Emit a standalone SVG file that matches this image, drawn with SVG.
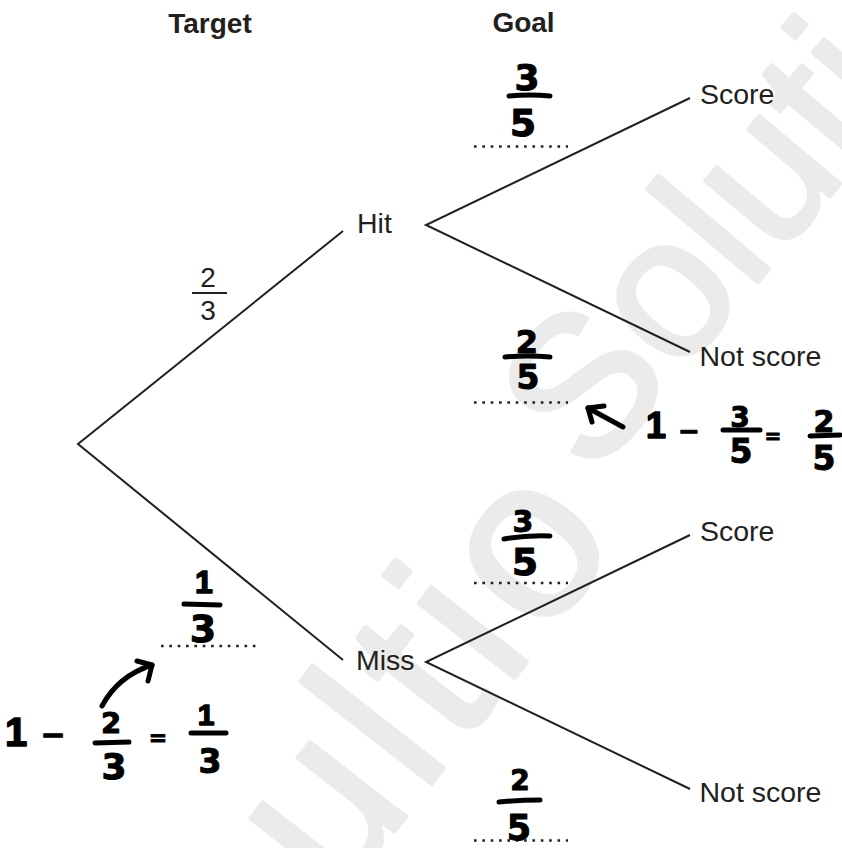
<svg xmlns="http://www.w3.org/2000/svg" width="842" height="848" viewBox="0 0 842 848">
  <style>
    .wm { font-family: "Liberation Sans", Arial, sans-serif; fill: #ebebeb; stroke: #ebebeb; stroke-width: 4; stroke-linejoin: round; }
    .lbl { font-family: "Liberation Sans", Arial, sans-serif; font-size: 28.5px; fill: #231f20; }
    .head { font-family: "Liberation Sans", Arial, sans-serif; font-size: 28px; font-weight: bold; fill: #231f20; text-anchor: middle; }
    .frac { font-family: "Liberation Sans", Arial, sans-serif; font-size: 28px; fill: #231f20; text-anchor: middle; }
    .edge { stroke: #231f20; stroke-width: 2; fill: none; }
    .bar { stroke: #231f20; stroke-width: 1.8; fill: none; }
    .blank { stroke: #231f20; stroke-width: 2.6; stroke-dasharray: 2.6 5.75; fill: none; }
    .hw { font-family: "DejaVu Sans", sans-serif; font-weight: bold; fill: #000; stroke: #000; stroke-width: 1; stroke-linejoin: round; text-anchor: middle; }
    .hw1 { font-family: "Liberation Sans", Arial, sans-serif; font-weight: bold; fill: #000; stroke: #000; stroke-width: 1.5; stroke-linejoin: round; text-anchor: middle; }
    .pen { stroke: #000; stroke-width: 5; stroke-linecap: round; stroke-linejoin: round; fill: none; }
  </style>

  <rect width="842" height="848" fill="#fff"/>

  <!-- background watermark -->
  <text class="wm" x="337" y="905" font-size="230" letter-spacing="10" transform="rotate(-52 337 905)">ultio</text>
  <text class="wm" x="592" y="480" font-size="200" transform="rotate(-50 592 480)">Solutio</text>

  <!-- column headings -->
  <text class="head" x="210" y="33">Target</text>
  <text class="head" x="523.5" y="32">Goal</text>

  <!-- tree branches -->
  <g id="connectors">
    <path class="edge" d="M343,231 L78,444 L343,660"/>
    <path class="edge" d="M690,98 L426,225 L690,352"/>
    <path class="edge" d="M690,535 L426,662 L690,789"/>
  </g>

  <!-- outcome nodes -->
  <g id="hit"><text class="lbl" x="357" y="233">Hit</text></g>
  <g id="miss"><text class="lbl" x="356" y="670">Miss</text></g>
  <g id="hit-score"><text class="lbl" x="700" y="104">Score</text></g>
  <g id="hit-not-score"><text class="lbl" x="699.5" y="366">Not score</text></g>
  <g id="miss-score"><text class="lbl" x="700" y="541">Score</text></g>
  <g id="miss-not-score"><text class="lbl" x="699.5" y="802">Not score</text></g>

  <!-- printed probability on the Hit branch -->
  <g id="p-hit">
    <text class="frac" x="208" y="287">2</text>
    <path class="bar" d="M192,293 L227,293"/>
    <text class="frac" x="208" y="320">3</text>
  </g>

  <!-- answer blanks -->
  <g id="blanks">
    <path class="blank" d="M474,146.5 H568"/>
    <path class="blank" d="M474,402.5 H568"/>
    <path class="blank" d="M474,583 H568"/>
    <path class="blank" d="M474,840.5 H568"/>
    <path class="blank" d="M161,646 H256"/>
  </g>

  <!-- handwritten answers -->
  <g id="ans-hit-score">
    <text class="hw" x="527" y="90" font-size="36">3</text>
    <path class="pen" d="M509,96 Q530,94 550,96"/>
    <text class="hw" x="523" y="136" font-size="38">5</text>
  </g>
  <g id="ans-hit-not-score">
    <text class="hw" x="527" y="353" font-size="32">2</text>
    <path class="pen" d="M505,357 Q528,355 550,357"/>
    <text class="hw" x="528" y="389" font-size="33">5</text>
  </g>
  <g id="ans-miss-score">
    <text class="hw" x="523" y="532" font-size="30">3</text>
    <path class="pen" d="M504,539 Q527,535 550,536"/>
    <text class="hw" x="525" y="575" font-size="38">5</text>
  </g>
  <g id="ans-miss-not-score">
    <text class="hw" x="520" y="790" font-size="28">2</text>
    <path class="pen" d="M499,802 Q520,800 540,800"/>
    <text class="hw" x="519" y="840" font-size="35">5</text>
  </g>
  <g id="ans-miss">
    <text class="hw1" x="204" y="593" font-size="32">1</text>
    <path class="pen" d="M184,604 L220,605"/>
    <text class="hw" x="203" y="642" font-size="38">3</text>
  </g>

  <!-- working: 1 - 2/3 = 1/3 -->
  <g id="work-miss">
    <text class="hw1" x="16" y="746" font-size="40">1</text>
    <text class="hw" x="53" y="745" font-size="30">−</text>
    <text class="hw" x="111" y="733" font-size="29">2</text>
    <path class="pen" d="M95,743 L129,742"/>
    <text class="hw" x="114" y="779" font-size="36">3</text>
    <text class="hw" x="158" y="745" font-size="22">=</text>
    <text class="hw1" x="206" y="725" font-size="30">1</text>
    <path class="pen" d="M191,733 L226,733"/>
    <text class="hw" x="210" y="773" font-size="33">3</text>
    <path class="pen" d="M102,706 Q118,676 152,665"/>
    <path class="pen" d="M137,661 L152,665 L148,681"/>
  </g>

  <!-- working: 1 - 3/5 = 2/5 -->
  <g id="work-hit">
    <path class="pen" d="M623,427 L588,408"/>
    <path class="pen" d="M604,406 L588,408 L592,422"/>
    <text class="hw1" x="656" y="438" font-size="36">1</text>
    <text class="hw" x="689" y="440" font-size="26">−</text>
    <text class="hw" x="740" y="427" font-size="28">3</text>
    <path class="pen" d="M723,430 L760,430"/>
    <text class="hw" x="741" y="463" font-size="33">5</text>
    <text class="hw" x="773" y="443" font-size="20">=</text>
    <text class="hw" x="824" y="432" font-size="30">2</text>
    <path class="pen" d="M810,436 L840,435"/>
    <text class="hw" x="824" y="470" font-size="33">5</text>
  </g>
</svg>
